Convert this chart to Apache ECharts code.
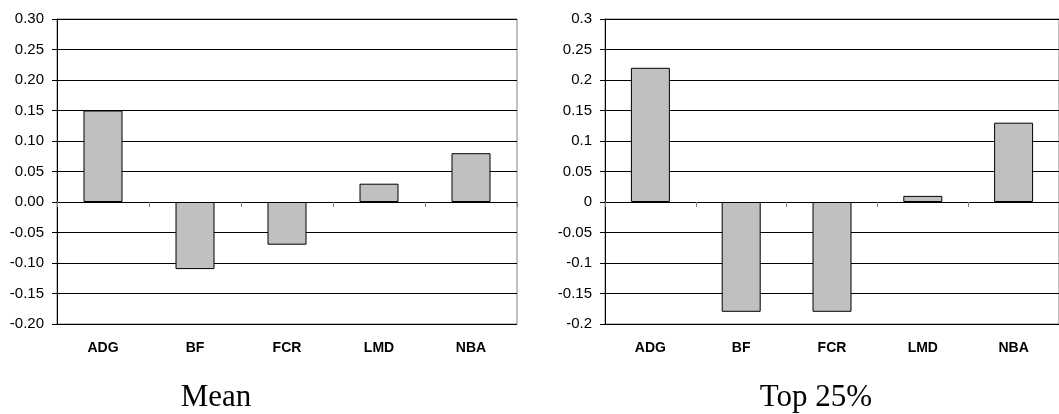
<!DOCTYPE html>
<html>
<head>
<meta charset="utf-8">
<script src="https://cdn.jsdelivr.net/npm/echarts@6/dist/echarts.min.js"></script>
<style>
html,body{margin:0;padding:0;background:#fff;}
#chart{width:1059px;height:414px;}
</style>
</head>
<body>
<div id="chart"></div>
<script>
const categories = ['ADG', 'BF', 'FCR', 'LMD', 'NBA'];
const meanValues = [0.15, -0.11, -0.07, 0.03, 0.08];
const top25Values = [0.22, -0.18, -0.18, 0.01, 0.13];
const panelTitles = ['Mean', 'Top 25%'];
const yMin = -0.2, yMax = 0.3, yStep = 0.05;

const chart = echarts.init(document.getElementById('chart'));
const font = '"Liberation Sans", Arial, sans-serif';
const serif = '"Liberation Serif", "Times New Roman", serif';

function yAxis(gridIndex, fmt) {
  return {
    type: 'value', gridIndex, min: yMin, max: yMax, interval: yStep,
    axisLine: { show: true, lineStyle: { color: '#000', width: 1 } },
    axisTick: { show: true, length: 5, lineStyle: { color: '#000' } },
    axisLabel: { margin: 13, fontFamily: font, fontSize: 15, color: '#000', formatter: fmt },
    splitLine: { show: true, lineStyle: { color: '#000', width: 1 } }
  };
}
function zeroAxis(gridIndex) {
  return {
    type: 'category', gridIndex, data: categories, position: 'bottom',
    axisLine: { show: true, onZero: true, lineStyle: { color: '#000', width: 1 } },
    axisTick: { show: true, length: 5, lineStyle: { color: '#808080' } },
    axisLabel: { show: false }
  };
}
function labelAxis(gridIndex) {
  return {
    type: 'category', gridIndex, data: categories, position: 'bottom',
    axisLine: { show: false, onZero: false },
    axisTick: { show: false },
    axisLabel: { margin: 17, fontFamily: font, fontSize: 14, fontWeight: 'bold', color: '#000' }
  };
}
const barStyle = { color: '#c0c0c0', borderColor: '#000', borderWidth: 1 };

chart.setOption({
  animation: false,
  backgroundColor: '#fff',
  grid: [
    { left: 57, top: 19, width: 460, height: 305, show: true, borderColor: '#808080', borderWidth: 1, backgroundColor: 'transparent' },
    { left: 605, top: 19, width: 460, height: 305, show: true, borderColor: '#808080', borderWidth: 1, backgroundColor: 'transparent' }
  ],
  xAxis: [zeroAxis(0), labelAxis(0), zeroAxis(1), labelAxis(1)],
  yAxis: [
    yAxis(0, v => v.toFixed(2)),
    yAxis(1, v => String(+v.toFixed(2)))
  ],
  series: [
    { type: 'bar', xAxisIndex: 0, yAxisIndex: 0, data: meanValues, barWidth: 39, itemStyle: barStyle },
    { type: 'bar', xAxisIndex: 2, yAxisIndex: 1, data: top25Values, barWidth: 39, itemStyle: barStyle }
  ],
  graphic: [
    { type: 'text', x: 216, y: 398, style: { text: panelTitles[0], font: '31px ' + serif, fill: '#000', align: 'center', verticalAlign: 'middle' } },
    { type: 'text', x: 816, y: 398, style: { text: panelTitles[1], font: '31px ' + serif, fill: '#000', align: 'center', verticalAlign: 'middle' } }
  ]
});
</script>
</body>
</html>
